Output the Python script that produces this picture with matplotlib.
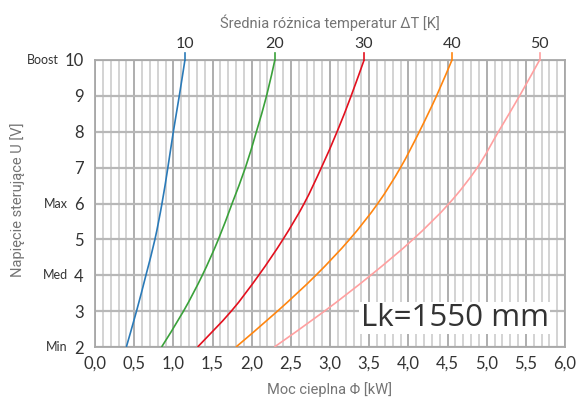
import matplotlib
matplotlib.use("Agg")
import matplotlib.pyplot as plt
from matplotlib.ticker import MultipleLocator, FuncFormatter
from matplotlib.path import Path
from matplotlib.patches import PathPatch

voltage = [2, 3, 4, 5, 6, 7, 8, 9, 10]
dt_labels = ["10", "20", "30", "40", "50"]
power_dt10 = [0.40, 0.53, 0.65, 0.765, 0.855, 0.93, 1.00, 1.076, 1.148]
power_dt20 = [0.85, 1.13, 1.37, 1.575, 1.75, 1.92, 2.06, 2.19, 2.296]
power_dt30 = [1.31, 1.74, 2.09, 2.40, 2.67, 2.89, 3.09, 3.27, 3.435]
power_dt40 = [1.80, 2.33, 2.82, 3.25, 3.61, 3.90, 4.14, 4.36, 4.557]
power_dt50 = [2.29, 2.93, 3.52, 4.06, 4.52, 4.88, 5.15, 5.42, 5.676]
mode_ticks = [2, 4, 6, 10]
mode_labels = ["Min", "Med", "Max", "Boost"]
series = [power_dt10, power_dt20, power_dt30, power_dt40, power_dt50]
colors = ["#2a7ab8", "#3aa13a", "#e3101e", "#ff850f", "#ffa0a0"]


def smooth_path(xs, ys):
    """Catmull-Rom curve through the data points, expressed as cubic Bezier segments."""
    pts = list(zip(xs, ys))
    n = len(pts)
    verts = [pts[0]]
    codes = [Path.MOVETO]
    for i in range(n - 1):
        p0 = pts[i - 1] if i > 0 else pts[i]
        p1 = pts[i]
        p2 = pts[i + 1]
        p3 = pts[i + 2] if i + 2 < n else pts[i + 1]
        c1 = (p1[0] + (p2[0] - p0[0]) / 6, p1[1] + (p2[1] - p0[1]) / 6)
        c2 = (p2[0] - (p3[0] - p1[0]) / 6, p2[1] - (p3[1] - p1[1]) / 6)
        verts += [c1, c2, p2]
        codes += [Path.CURVE4] * 3
    return Path(verts, codes)


fig = plt.figure(figsize=(5.77, 3.98), dpi=100)
ax = fig.add_axes([95/577, 51/398, 470/577, 287/398])
ax.set_xlim(0, 6)
ax.set_ylim(2, 10)

ax.xaxis.set_major_locator(MultipleLocator(0.5))
ax.xaxis.set_minor_locator(MultipleLocator(0.1))
ax.yaxis.set_major_locator(MultipleLocator(1))
ax.grid(which="minor", axis="x", color="#d0d0d0", lw=1.3, zorder=0)
ax.grid(which="major", axis="x", color="#a8a8a8", lw=1.3, zorder=0)
ax.grid(which="major", axis="y", color="#b8b8b8", lw=1.6, zorder=0)
ax.set_axisbelow(True)
for s in ax.spines.values():
    s.set_color("#a8a8a8")
    s.set_linewidth(1.3)

ax.xaxis.set_major_formatter(FuncFormatter(lambda v, p: f"{v:.1f}".replace(".", ",")))
ax.tick_params(which="both", length=0, labelsize=12, colors="#333333")
ax.tick_params(axis="x", pad=6)
ax.tick_params(axis="y", pad=8)
for lab in ax.get_xticklabels() + ax.get_yticklabels():
    lab.set_family(["Lato", "DejaVu Sans"])

for vals, c, lab in zip(series, colors, dt_labels):
    ax.add_patch(PathPatch(smooth_path(vals, voltage), fill=False, edgecolor=c,
                           lw=1.2, zorder=3))
    ax.plot([vals[-1], vals[-1]], [10, 10.2], color=c, lw=1.2, clip_on=False, zorder=3)
    ax.text(vals[-1], 10.25, lab, ha="center", va="bottom", fontsize=11.5,
            color="#333333", family=["Lato", "DejaVu Sans"])

mode_x = [-0.345, -0.345, -0.345, -0.46]
for yt, ml, mx in zip(mode_ticks, mode_labels, mode_x):
    ax.text(mx, yt, ml, ha="right", va="center", fontsize=9, color="#333333",
            family=["Lato", "DejaVu Sans"])

ax.text(3.0, 11.05, "Średnia różnica temperatur ΔT [K]", ha="center", va="center",
        fontsize=10.5, color="#747474", family=["Roboto", "DejaVu Sans"])
fig.text(330/577, 1 - 390/398, "Moc cieplna Φ [kW]", ha="center", va="center",
         fontsize=10.5, color="#747474", family=["Roboto", "DejaVu Sans"])
fig.text(18/577, 1 - 200/398, "Napięcie sterujące U [V]", ha="center", va="center",
         rotation=90, fontsize=10.5, color="#747474", family=["Roboto", "DejaVu Sans"])

ax.text(4.59, 2.81, "Lk=1550 mm", ha="center", va="center", fontsize=22.5,
        color="#333333", family=["Open Sans", "DejaVu Sans"], zorder=5,
        bbox=dict(facecolor="white", edgecolor="none", pad=1))

fig.savefig("out.png", dpi=100)
